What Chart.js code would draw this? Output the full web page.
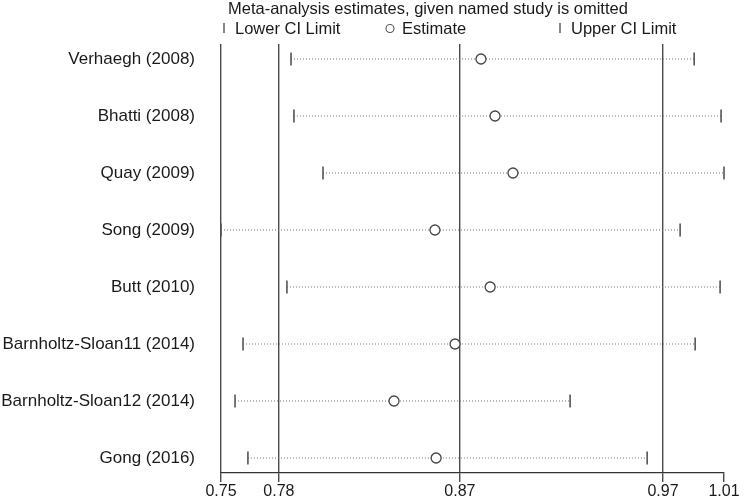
<!DOCTYPE html>
<html>
<head>
<meta charset="utf-8">
<script src="https://cdn.jsdelivr.net/npm/chart.js@4"></script>
<style>
  html, body { margin: 0; padding: 0; background: #fff; }
  #wrap { width: 745px; height: 498px; }
</style>
</head>
<body>
<div id="wrap"><canvas id="chart" width="745" height="498"></canvas></div>
<script>
const studies = [
  "Verhaegh (2008)",
  "Bhatti (2008)",
  "Quay (2009)",
  "Song (2009)",
  "Butt (2010)",
  "Barnholtz-Sloan11 (2014)",
  "Barnholtz-Sloan12 (2014)",
  "Gong (2016)",
];
const lowerCI = [0.7837, 0.7852, 0.8001, 0.7478, 0.7816, 0.7591, 0.755, 0.7616];
const estimates = [0.8811, 0.8883, 0.8975, 0.8575, 0.8858, 0.8678, 0.8365, 0.8581];
const upperCI = [0.9904, 1.0042, 1.0057, 0.9832, 1.0037, 0.9909, 0.9268, 0.9663];
const tickValues = [0.7478, 0.7775, 0.8703, 0.9744, 1.0057];
const tickLabels = ["0.75", "0.78", "0.87", "0.97", "1.01"];
const titleText = "Meta-analysis estimates, given named study is omitted";
const legendLabels = ["Lower CI Limit", "Estimate", "Upper CI Limit"];

const FONT = "'Liberation Sans', Arial, sans-serif";
const ink = "#1a1a1a";

// dotted line per study, lower -> upper
const ciLines = studies.map((s, i) => ({
  type: "scatter",
  showLine: true,
  data: [
    { x: lowerCI[i], y: i + 1 },
    { x: upperCI[i], y: i + 1 },
  ],
  borderColor: "#737373",
  borderWidth: 1,
  borderDash: [1, 2],
  pointRadius: 0,
  clip: false,
  order: 5,
}));

const tickMark = (vals, label) => ({
  type: "scatter",
  label: label,
  data: vals.map((v, i) => ({ x: v, y: i + 1 })),
  pointStyle: "line",
  rotation: 90,
  pointRadius: 6.5,
  borderColor: "#555",
  borderWidth: 1.6,
  clip: false,
  order: 2,
});

// title + legend drawn above the plot
const topLegend = {
  id: "topLegend",
  afterDraw(chart) {
    const { ctx, chartArea } = chart;
    const L = chartArea.left;
    ctx.save();
    ctx.fillStyle = ink;
    ctx.font = "16.5px " + FONT;
    ctx.textBaseline = "alphabetic";
    ctx.textAlign = "left";
    ctx.fillText(titleText, L + 7, 14);

    ctx.strokeStyle = "#555";
    ctx.lineWidth = 1.4;
    // lower
    ctx.beginPath();
    ctx.moveTo(L + 3, 23);
    ctx.lineTo(L + 3, 33);
    ctx.stroke();
    ctx.fillText(legendLabels[0], L + 14, 34);
    // estimate
    ctx.beginPath();
    ctx.arc(L + 169, 28.5, 4, 0, Math.PI * 2);
    ctx.lineWidth = 1.1;
    ctx.stroke();
    ctx.fillText(legendLabels[1], L + 181, 34);
    // upper
    ctx.lineWidth = 1.4;
    ctx.beginPath();
    ctx.moveTo(L + 339, 23);
    ctx.lineTo(L + 339, 33);
    ctx.stroke();
    ctx.fillText(legendLabels[2], L + 350, 34);
    ctx.restore();
  },
};

new Chart(document.getElementById("chart"), {
  type: "scatter",
  data: {
    datasets: [
      {
        label: "Estimate",
        data: estimates.map((v, i) => ({ x: v, y: i + 1 })),
        pointStyle: "circle",
        pointRadius: 5,
        backgroundColor: "#fff",
        borderColor: "#444",
        borderWidth: 1.3,
        clip: false,
        order: 0,
      },
      tickMark(lowerCI, "Lower CI Limit"),
      tickMark(upperCI, "Upper CI Limit"),
      ...ciLines,
    ],
  },
  options: {
    responsive: false,
    animation: false,
    layout: { padding: { top: 44, right: 21, left: 0, bottom: 0 } },
    plugins: {
      legend: { display: false },
      tooltip: { enabled: false },
    },
    scales: {
      x: {
        type: "linear",
        min: tickValues[0],
        max: tickValues[tickValues.length - 1],
        afterBuildTicks: (scale) => {
          scale.ticks = tickValues.map((v) => ({ value: v }));
        },
        afterFit: (scale) => {
          scale.height = 25;
        },
        ticks: {
          autoSkip: false,
          maxRotation: 0,
          padding: 2,
          color: ink,
          font: { family: FONT, size: 16, lineHeight: 1 },
          callback: (v, i) => tickLabels[i],
        },
        grid: {
          color: (c) => (c.tick && c.tick.value === tickValues[tickValues.length - 1] ? "rgba(0,0,0,0)" : "#4a4a4a"),
          lineWidth: 1.4,
          drawTicks: true,
          tickLength: 9,
          tickColor: "#4a4a4a",
          tickWidth: 1.4,
        },
        border: { display: true, color: "#333", width: 1.3 },
      },
      y: {
        type: "linear",
        reverse: true,
        min: 0.737,
        max: 8.263,
        afterBuildTicks: (scale) => {
          scale.ticks = studies.map((s, i) => ({ value: i + 1 }));
        },
        afterFit: (scale) => {
          scale.width = 221;
        },
        ticks: {
          autoSkip: false,
          padding: 0,
          color: ink,
          font: { family: FONT, size: 17 },
          callback: (v) => studies[v - 1],
        },
        // invisible tick marks give the gap between labels and plot
        grid: {
          display: true,
          drawOnChartArea: false,
          drawTicks: true,
          tickLength: 26,
          tickColor: "rgba(0,0,0,0)",
        },
        border: { display: false },
      },
    },
  },
  plugins: [topLegend],
});
</script>
</body>
</html>
